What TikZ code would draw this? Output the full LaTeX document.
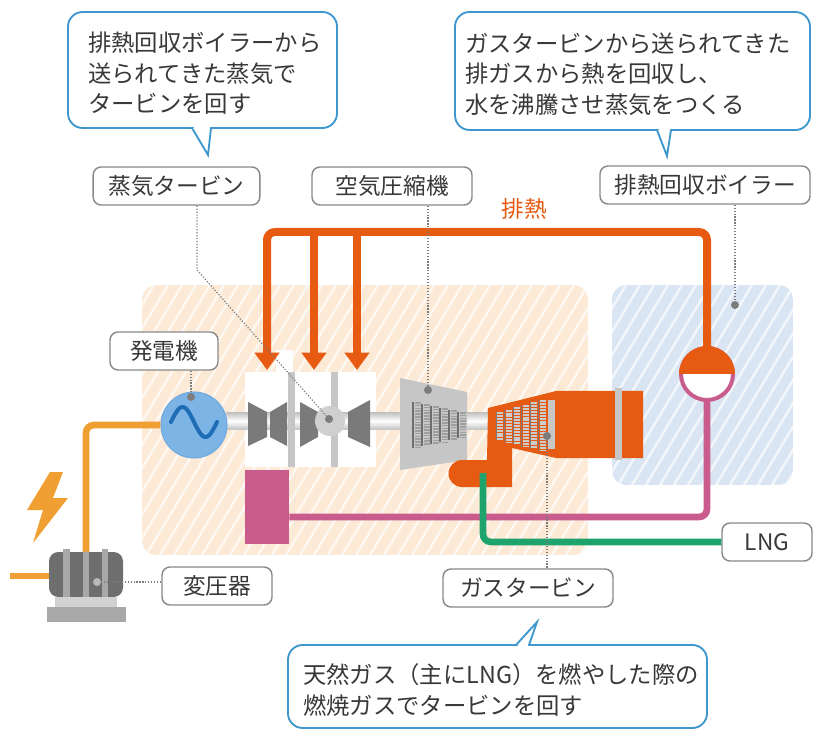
\documentclass[tikz,border=0pt]{standalone}
\usepackage{fontspec}
\setmainfont{Noto Sans CJK JP}
\usepackage{tikz}
\usetikzlibrary{arrows.meta}
\definecolor{ink}{HTML}{383838}
\definecolor{bubBlue}{HTML}{3E98CF}
\definecolor{boxGray}{HTML}{8A8A8A}
\definecolor{heatOrange}{HTML}{E65A12}
\definecolor{powerAmber}{HTML}{F0A033}
\definecolor{steamPink}{HTML}{C95B8D}
\definecolor{fuelGreen}{HTML}{1FA36C}
\definecolor{genBlue}{HTML}{7DB4E6}
\definecolor{waveBlue}{HTML}{1F6DB5}
\definecolor{peach}{HTML}{FCEAD6}
\definecolor{paleBlue}{HTML}{D9E5F2}
\definecolor{bladeGray}{HTML}{7A7A7A}
\definecolor{barGray}{HTML}{C6C6C6}
\definecolor{dotGray}{HTML}{7C7C7C}
\definecolor{bodyGray}{HTML}{6E6E6E}
\tikzset{
  lab/.style={draw=boxGray, line width=1.1pt, rounded corners=6pt, fill=white,
    text=ink, font=\fontsize{17}{20}\selectfont, minimum height=28.5pt, inner sep=0pt},
  bubble/.style={draw=bubBlue, line width=1.4pt, rounded corners=11pt, fill=white},
  bubTail/.style={draw=bubBlue, line width=1.4pt, line join=miter},
  bubTxt/.style={text=ink, font=\fontsize{17.5}{22.8}\selectfont, align=left,
    inner sep=0pt, anchor=west},
  pointer/.style={draw=dotGray, line width=0.9pt, dash pattern=on 0.9pt off 1.3pt},
  dot/.style={circle, fill=dotGray, inner sep=0pt, minimum size=6pt},
  stripe/.style={draw=white, line width=1.8pt, opacity=0.7},
  heatPipe/.style={draw=heatOrange, line width=6pt, rounded corners=6pt,
    -{Triangle[width=18pt,length=13pt]}},
  steamPipe/.style={draw=steamPink, line width=5pt, rounded corners=6pt},
  fuelPipe/.style={draw=fuelGreen, line width=5pt, rounded corners=6pt},
  powerLine/.style={draw=powerAmber, line width=5pt, rounded corners=6pt},
  blade/.style={fill=bladeGray}
}

\begin{document}
\begin{tikzpicture}[x=0.75pt, y=-0.75pt]
  \useasboundingbox (0,0) rectangle (813,730);
  \fill[white] (0,0) rectangle (813,730);

  % Power plant and boiler areas
  \begin{scope}
    \clip[rounded corners=11pt] (142,285) rectangle (588,555);
    \fill[peach] (142,285) rectangle (588,555);
    \foreach \s in {140,154,...,760}
      \draw[stripe] (\s,285) -- (\s-162,555);
  \end{scope}
  \begin{scope}
    \clip[rounded corners=11pt] (612,285) rectangle (793,485);
    \fill[paleBlue] (612,285) rectangle (793,485);
    \foreach \s in {612,626,...,920}
      \draw[stripe] (\s,285) -- (\s-120,485);
  \end{scope}

  % Steam turbine casing
  \fill[white] (245,372) rectangle (376,467);
  \fill[white] (276,350) rectangle (293,372);

  % Exhaust heat
  \node[circle, minimum size=42pt, inner sep=0pt] (drum) at (707,374) {};
  \coordinate (hTop) at (267,232);
  \coordinate (inA) at (267,370);
  \coordinate (inB) at (314,370);
  \coordinate (inC) at (357,370);
  \draw[heatPipe] (drum.center) |- (hTop) -- (inA);
  \draw[heatPipe] (inB |- hTop) -- (inB);
  \draw[heatPipe] (inC |- hTop) -- (inC);
  \node[text=heatOrange, font=\fontsize{17}{20}\selectfont] (heatLab) at (524,209) {排熱};

  % Shaft
  \shade[top color=barGray, bottom color=barGray, middle color=white] (226,413) rectangle (494,429);

  % Steam turbine stages
  \fill[barGray] (288,372) rectangle (295,467);
  \fill[barGray] (331,372) rectangle (338,467);
  \fill[blade] (248,402) -- (267,412) -- (267,437) -- (248,446) -- cycle;
  \fill[blade] (270,412) -- (287,402) -- (287,446) -- (270,437) -- cycle;
  \fill[blade] (300,402) -- (318,412) -- (318,437) -- (300,447) -- cycle;
  \fill[blade] (348,412) -- (370,400) -- (370,447) -- (348,437) -- cycle;
  \fill[barGray!85] (330,421) circle (15);

  % Generator
  \node[circle, fill=genBlue, draw=genBlue!85!waveBlue, line width=0.8pt,
    minimum size=49.5pt, inner sep=0pt] (gen) at (194,425) {};
  \draw[waveBlue, line width=3pt, line cap=round, domain=0:1, samples=40, smooth]
    plot ({171+46*\x},{422-15*sin(360*\x)});

  % Compressor
  \fill[barGray] (400,378) -- (467,392) -- (467,460) -- (400,470) -- cycle;
  \foreach \i in {0,...,5}{
    \draw[bodyGray, line width=0.9pt] ({413+9*\i},{402+2*\i}) -- ({413+9*\i},{448-2*\i});
    \draw[gray!75, line width=4.5pt, dash pattern=on 1.2pt off 0.9pt]
      ({417.5+9*\i},{402+2*\i}) -- ({417.5+9*\i},{448-2*\i});
  }

  % Gas turbine with combustor
  \fill[heatOrange] (512,487) -- (462,487) arc[start angle=90, end angle=270, radius=13.5]
    -- (487,460) -- (488,408) -- (556,391) -- (643,391) -- (643,458) -- (556,458)
    -- (512,448) -- cycle;
  \foreach \i in {0,...,5}{
    \draw[bladeGray, line width=0.6pt] ({496+8.5*\i},{412-2.4*\i}) -- ++(0,{28+4.6*\i});
    \draw[barGray!90, line width=4.5pt, dash pattern=on 1.5pt off 0.7pt]
      ({500+8.5*\i},{412-2.4*\i}) -- ++(0,{28+4.6*\i});
  }
  \fill[barGray] (548,400) rectangle (555,449);
  \fill[barGray] (615,388) rectangle (622,460);

  % Condensate back to the boiler
  \node[fill=steamPink, minimum width=33pt, minimum height=55.5pt, inner sep=0pt] (cond) at (267,507) {};
  \coordinate (pinkRun) at (300,517);
  \draw[steamPipe] (cond.east |- pinkRun) -| (drum.center);

  % Boiler drum
  \fill[white] (drum.center) circle (27);
  \draw[steamPink, line width=3pt] (drum.center) circle (26);
  \fill[heatOrange] (679,374) arc[start angle=180, end angle=360, radius=28] -- cycle;

  % Transformer
  \node[fill=bodyGray, rounded corners=7pt, minimum width=55.5pt, minimum height=33.75pt,
    inner sep=0pt] (trans) at (86,574.5) {};
  \foreach \b in {66.5,86,105}
    \fill[barGray!85!black] (\b-3.2,549) rectangle (\b+3.2,600);
  \fill[barGray!80] (55,597) rectangle (117,607);
  \fill[barGray!85!black] (47,607) rectangle (126,622);
  \draw[powerLine] (gen.west) -| (trans.north);
  \coordinate (gridIn) at (10,576);
  \draw[powerLine] (gridIn) -- (trans.west |- gridIn);
  \fill[powerAmber] (50,472) -- (63,472) -- (53,498) -- (68,498) -- (33,543)
    -- (43,510) -- (27,510) -- cycle;

  % Labels
  \node[lab, minimum width=125pt] (stLab) at (176.5,186) {蒸気タービン};
  \node[lab, minimum width=120pt] (acLab) at (392,186) {空気圧縮機};
  \node[lab, minimum width=157.5pt] (hrLab) at (705,185) {排熱回収ボイラー};
  \node[lab, minimum width=81pt] (genLab) at (164,351) {発電機};
  \node[lab, minimum width=82.5pt] (trLab) at (217,586) {変圧器};
  \node[lab, minimum width=127.5pt] (gtLab) at (528,588) {ガスタービン};
  \node[lab, minimum width=67.5pt] (lngLab) at (767,542) {LNG};

  % Fuel supply
  \coordinate (fuelIn) at (483,473);
  \draw[fuelPipe] (fuelIn) |- (lngLab.west);

  % Pointers
  \node[dot] (stDot) at (329,419) {};
  \node[dot] (acDot) at (428,390) {};
  \node[dot] (hrDot) at (735,305) {};
  \node[dot] (genDot) at (191,397) {};
  \node[dot] (gtDot) at (547,436) {};
  \node[dot, fill=gray!55] (trDot) at (97,582) {};
  \coordinate (stBend) at (197,270);
  \draw[pointer] (stLab.south -| stBend) -- (stBend) -- (stDot);
  \draw[pointer] (acLab.south -| acDot) -- (acDot);
  \draw[pointer] (hrLab.south -| hrDot) -- (hrDot);
  \draw[pointer] (genLab.south -| genDot) -- (genDot);
  \draw[pointer] (trDot) -- (trLab.west |- trDot);
  \draw[pointer] (gtDot) -- (gtLab.north -| gtDot);

  % Callouts
  \draw[bubble] (68,12) rectangle (337,128);
  \fill[white] (192,128) -- (208,155) -- (211,128) -- cycle;
  \fill[white] (193.5,126) rectangle (209.5,130);
  \draw[bubTail] (192,128) -- (208,155) -- (211,128);
  \node[bubTxt] (steamTxt) at (88,73.5) {排熱回収ボイラーから\\送られてきた蒸気で\\タービンを回す};

  \draw[bubble] (455,12) rectangle (810,130);
  \fill[white] (657,130) -- (667,156) -- (671,130) -- cycle;
  \fill[white] (658.5,128) rectangle (669.5,132);
  \draw[bubTail] (657,130) -- (667,156) -- (671,130);
  \node[bubTxt] (boilTxt) at (465,74) {ガスタービンから送られてきた\\排ガスから熱を回収し、\\水を沸騰させ蒸気をつくる};

  \draw[bubble] (288,645) rectangle (707,728);
  \fill[white] (516,645) -- (537,622) -- (529,645) -- cycle;
  \fill[white] (517.5,643) rectangle (527.5,647);
  \draw[bubTail] (516,645) -- (537,622) -- (529,645);
  \node[bubTxt] (gasTxt) at (303,690) {天然ガス（主にLNG）を燃やした際の\\燃焼ガスでタービンを回す};
\end{tikzpicture}
\end{document}
